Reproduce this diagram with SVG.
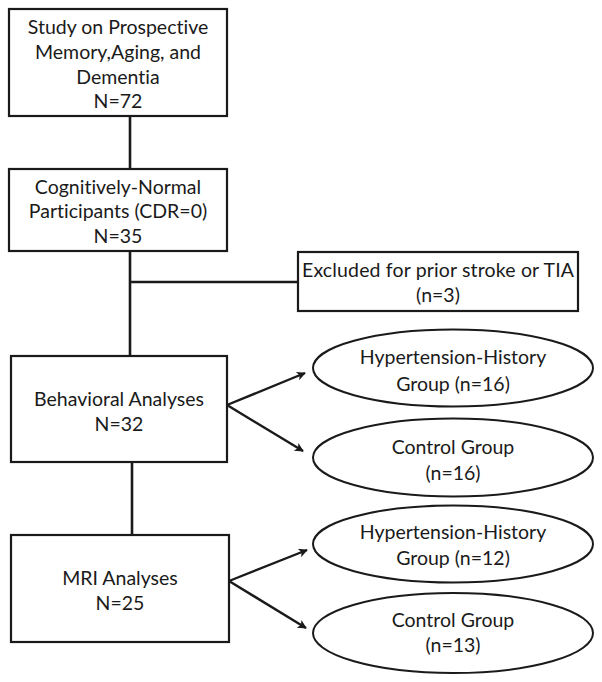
<svg xmlns="http://www.w3.org/2000/svg" width="602" height="682" viewBox="0 0 602 682">
<defs>
<style>
.box{fill:#fff;stroke:#1a1a1a;stroke-width:2.2}
.ell{fill:#fff;stroke:#1a1a1a;stroke-width:2}
.t{font-family:Lato,"Liberation Sans",sans-serif;font-size:19.5px;fill:#1a1a1a;text-anchor:middle;font-variant-ligatures:none}
.ln{fill:none;stroke:#1a1a1a;stroke-width:2.6}
.ar{fill:none;stroke:#1a1a1a;stroke-width:2.4}
</style>
<marker id="ah" viewBox="0 0 10 10" refX="9" refY="5" markerWidth="10" markerHeight="9" markerUnits="userSpaceOnUse" orient="auto">
<path d="M0,0 L10,5 L0,10 L2.5,5 z" fill="#1a1a1a"/>
</marker>
</defs>
<rect width="602" height="682" fill="#fff"/>
<g id="connectors">
<line class="ln" x1="130" y1="116" x2="130" y2="169"/>
<line class="ln" x1="130" y1="251" x2="130" y2="356"/>
<line class="ln" x1="130" y1="282" x2="298" y2="282"/>
<line class="ln" x1="132" y1="462" x2="132" y2="535"/>
<line class="ar" x1="227" y1="405" x2="305" y2="373" marker-end="url(#ah)"/>
<line class="ar" x1="227" y1="405" x2="303" y2="451" marker-end="url(#ah)"/>
<line class="ar" x1="229" y1="581" x2="307" y2="550" marker-end="url(#ah)"/>
<line class="ar" x1="229" y1="581" x2="306" y2="628" marker-end="url(#ah)"/>
</g>
<g id="study">
<rect class="box" x="9" y="9" width="218" height="107"/>
<text class="t" x="118" y="34">Study on Prospective</text>
<text class="t" x="118" y="59">Memory,Aging, and</text>
<text class="t" x="118" y="84">Dementia</text>
<text class="t" x="118" y="108">N=72</text>
</g>
<g id="cognormal">
<rect class="box" x="9" y="169" width="218" height="82"/>
<text class="t" x="118" y="194">Cognitively-Normal</text>
<text class="t" x="118" y="218">Participants (CDR=0)</text>
<text class="t" x="118" y="243">N=35</text>
</g>
<g id="excluded">
<rect class="box" x="298" y="252" width="280" height="59"/>
<text class="t" x="438" y="277" textLength="272" lengthAdjust="spacing">Excluded for prior stroke or TIA</text>
<text class="t" x="438" y="302">(n=3)</text>
</g>
<g id="behavioral">
<rect class="box" x="11" y="356" width="216" height="106"/>
<text class="t" x="119" y="406">Behavioral Analyses</text>
<text class="t" x="119" y="431">N=32</text>
</g>
<g id="beh-hyp">
<ellipse class="ell" cx="453" cy="368" rx="140" ry="38.5"/>
<text class="t" x="453" y="364">Hypertension-History</text>
<text class="t" x="453" y="391">Group (n=16)</text>
</g>
<g id="beh-ctrl">
<ellipse class="ell" cx="453" cy="457.5" rx="140" ry="39"/>
<text class="t" x="453" y="454">Control Group</text>
<text class="t" x="453" y="480">(n=16)</text>
</g>
<g id="mri">
<rect class="box" x="11" y="535" width="218" height="107"/>
<text class="t" x="120" y="585">MRI Analyses</text>
<text class="t" x="120" y="610">N=25</text>
</g>
<g id="mri-hyp">
<ellipse class="ell" cx="453" cy="544" rx="140" ry="38.5"/>
<text class="t" x="453" y="539">Hypertension-History</text>
<text class="t" x="453" y="565">Group (n=12)</text>
</g>
<g id="mri-ctrl">
<ellipse class="ell" cx="453" cy="633" rx="140" ry="40"/>
<text class="t" x="453" y="627">Control Group</text>
<text class="t" x="453" y="652">(n=13)</text>
</g>
</svg>
